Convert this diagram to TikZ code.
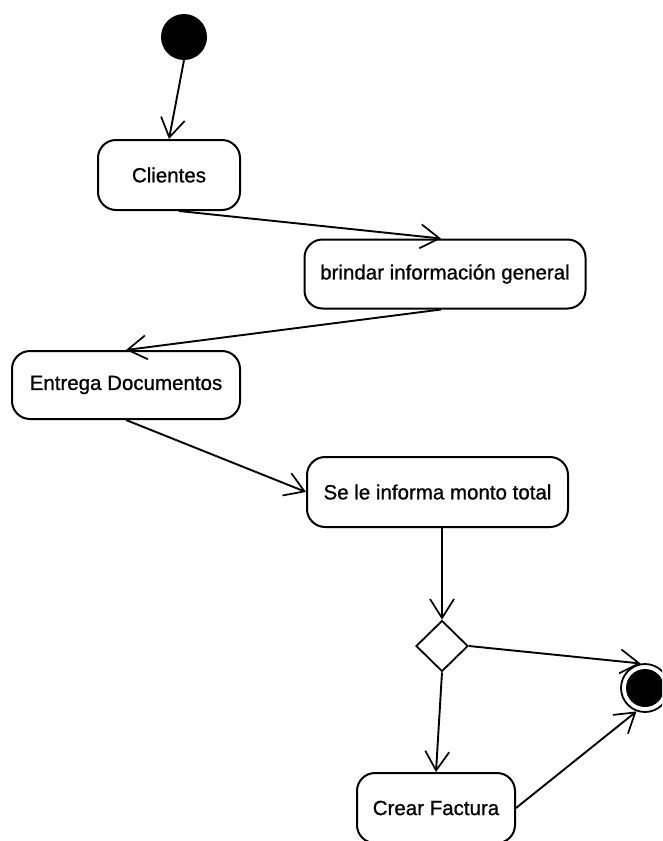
\documentclass[tikz,border=0pt]{standalone}
\usepackage{fontspec}
\setmainfont{Liberation Sans}
\newfontfamily\labelfont{Liberation Sans}[AutoFakeBold=0.9]
\usetikzlibrary{arrows.meta,shapes.geometric,calc}
\begin{document}
\begin{tikzpicture}[x=1pt,y=-1pt,
  activity/.style={draw, line width=2pt, rounded corners=18pt, inner sep=0pt,
    minimum height=70pt, font=\labelfont\bfseries\fontsize{20.5}{24}\selectfont},
  flow/.style={line width=1.9pt, -{Straight Barb[length=19pt,width=24pt,line width=1.7pt]}},
  decision/.style={draw, diamond, line width=1.8pt, inner sep=0pt,
    minimum width=52pt, minimum height=51pt}]
\useasboundingbox (0,0) rectangle (662,841);
\clip (0,0) rectangle (662,841);

% initial and final states
\node[circle, fill=black, inner sep=0pt, minimum size=46pt] (start) at (184,37) {};
\node[circle, draw, line width=1.8pt, inner sep=0pt, minimum size=48pt] (fin) at (645,688) {};
\fill (fin.center) circle (19);

% activities
\node[activity, minimum width=142pt] (clientes) at (169,175) {Clientes};
\node[activity, minimum width=281pt, minimum height=69pt] (brindar) at (445,274) {brindar información general};
\node[activity, minimum width=228pt, minimum height=68pt] (entrega) at (126,385) {Entrega Documentos};
\node[activity, minimum width=261pt] (informa) at (437.5,492) {Se le informa monto total};
\node[decision] (dec) at (442,646) {};
\node[activity, minimum width=158pt] (factura) at (436,808) {Crear Factura};

% transitions
\draw[flow] (start.south) -- (clientes.north);
\draw[flow] ([xshift=10pt]clientes.south) -- ([xshift=-4pt]brindar.north);
\draw[flow] ([xshift=-4pt]brindar.south) -- (entrega.north);
\draw[flow] (entrega.south) -- (informa.west);
\draw[flow] (informa.south -| dec.north) -- (dec.north);
\draw[flow] (dec.east) -- (fin.100);
\draw[flow] (dec.south) -- (factura.north);
\draw[flow] (factura.east) -- (fin.250);
\end{tikzpicture}
\end{document}
